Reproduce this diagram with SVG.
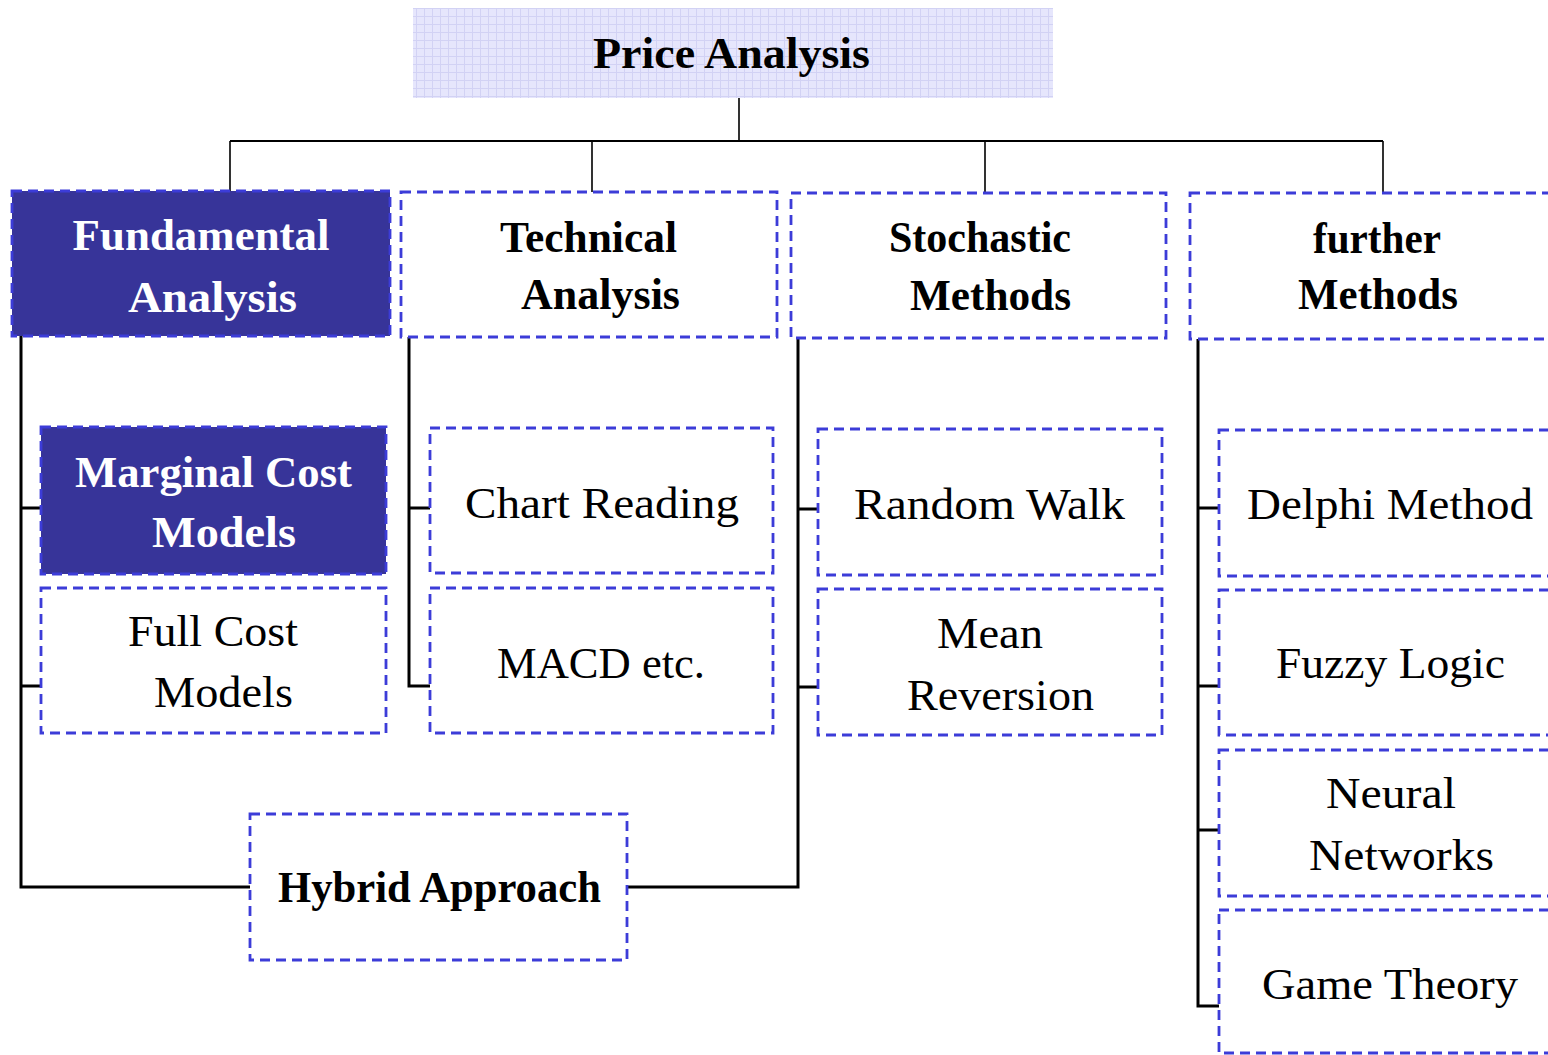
<svg xmlns="http://www.w3.org/2000/svg" width="1548" height="1055" viewBox="0 0 1548 1055">
<defs>
<pattern id="grid" width="8" height="8" patternUnits="userSpaceOnUse">
<rect width="8" height="8" fill="#e6e6fc"/>
<path d="M0 0.5H8M0.5 0V8" stroke="#d2d2f4" stroke-width="1" fill="none"/>
</pattern>
<style>
.box{fill:#ffffff;stroke:#3c3cd8;stroke-width:2.8;stroke-dasharray:10 6}
.dark{fill:#373499;stroke:#3c3cd8;stroke-width:2.8;stroke-dasharray:10 6}
text{font-family:"Liberation Serif","DejaVu Serif",serif;font-size:44px;text-anchor:middle;fill:#000}
.b{font-weight:bold}
.w{fill:#ffffff}
.conn{fill:none;stroke:#000;stroke-width:3}
.thin{fill:none;stroke:#000;stroke-width:1.6}
</style>
</defs>
<rect width="1548" height="1055" fill="#ffffff"/>
<g id="connectors">
<path class="thin" d="M739 98V141M230 191V141M592 192V141M985 193V141M1383 193V141"/>
<path class="thin" style="stroke-width:2.2" d="M230 141H1383"/>
<path class="conn" d="M21 336V887H250M21 508H41M21 686H41"/>
<path class="conn" d="M409 336V686H430M409 508H430"/>
<path class="conn" d="M798 338V887H627M798 509H818M798 687H818"/>
<path class="conn" d="M1198 339V1006H1219M1198 508H1219M1198 686H1219M1198 830H1219"/>
</g>
<g id="price-analysis">
<rect x="413" y="8" width="640" height="90" fill="url(#grid)"/>
<text class="b" x="731.5" y="68" textLength="277" lengthAdjust="spacingAndGlyphs">Price Analysis</text>
</g>
<g id="fundamental-analysis">
<rect class="dark" x="12" y="191" width="378" height="145"/>
<text class="b w" x="201" y="250" textLength="257" lengthAdjust="spacingAndGlyphs">Fundamental</text>
<text class="b w" x="212.5" y="312" textLength="169" lengthAdjust="spacingAndGlyphs">Analysis</text>
</g>
<g id="technical-analysis">
<rect class="box" x="401" y="192" width="376" height="145"/>
<text class="b" x="588.5" y="252" textLength="177" lengthAdjust="spacingAndGlyphs">Technical</text>
<text class="b" x="600.5" y="309" textLength="159" lengthAdjust="spacingAndGlyphs">Analysis</text>
</g>
<g id="stochastic-methods">
<rect class="box" x="791" y="193" width="375" height="145"/>
<text class="b" x="980" y="252" textLength="182" lengthAdjust="spacingAndGlyphs">Stochastic</text>
<text class="b" x="990.5" y="310" textLength="161" lengthAdjust="spacingAndGlyphs">Methods</text>
</g>
<g id="further-methods">
<rect class="box" x="1190" y="193" width="400" height="146"/>
<text class="b" x="1377" y="253" textLength="128" lengthAdjust="spacingAndGlyphs">further</text>
<text class="b" x="1378" y="309" textLength="160" lengthAdjust="spacingAndGlyphs">Methods</text>
</g>
<g id="marginal-cost-models">
<rect class="dark" x="41" y="427" width="345" height="147"/>
<text class="b w" x="213.5" y="487" textLength="277" lengthAdjust="spacingAndGlyphs">Marginal Cost</text>
<text class="b w" x="224" y="547" textLength="144" lengthAdjust="spacingAndGlyphs">Models</text>
</g>
<g id="full-cost-models">
<rect class="box" x="41" y="588" width="345" height="145"/>
<text x="213" y="646" textLength="170" lengthAdjust="spacingAndGlyphs">Full Cost</text>
<text x="223.5" y="707" textLength="139" lengthAdjust="spacingAndGlyphs">Models</text>
</g>
<g id="chart-reading">
<rect class="box" x="430" y="428" width="343" height="145"/>
<text x="602" y="518" textLength="274" lengthAdjust="spacingAndGlyphs">Chart Reading</text>
</g>
<g id="macd">
<rect class="box" x="430" y="588" width="343" height="145"/>
<text x="601" y="678" textLength="208" lengthAdjust="spacingAndGlyphs">MACD etc.</text>
</g>
<g id="random-walk">
<rect class="box" x="818" y="429" width="344" height="146"/>
<text x="989.5" y="519" textLength="271" lengthAdjust="spacingAndGlyphs">Random Walk</text>
</g>
<g id="mean-reversion">
<rect class="box" x="818" y="589" width="344" height="146"/>
<text x="990" y="648" textLength="106" lengthAdjust="spacingAndGlyphs">Mean</text>
<text x="1000.5" y="710" textLength="187" lengthAdjust="spacingAndGlyphs">Reversion</text>
</g>
<g id="delphi-method">
<rect class="box" x="1219" y="430" width="400" height="146"/>
<text x="1390" y="519" textLength="286" lengthAdjust="spacingAndGlyphs">Delphi Method</text>
</g>
<g id="fuzzy-logic">
<rect class="box" x="1219" y="590" width="400" height="145"/>
<text x="1390.5" y="678" textLength="229" lengthAdjust="spacingAndGlyphs">Fuzzy Logic</text>
</g>
<g id="neural-networks">
<rect class="box" x="1219" y="750" width="400" height="146"/>
<text x="1391" y="808" textLength="130" lengthAdjust="spacingAndGlyphs">Neural</text>
<text x="1401.5" y="870" textLength="185" lengthAdjust="spacingAndGlyphs">Networks</text>
</g>
<g id="game-theory">
<rect class="box" x="1219" y="910" width="400" height="143"/>
<text x="1390" y="999" textLength="256" lengthAdjust="spacingAndGlyphs">Game Theory</text>
</g>
<g id="hybrid-approach">
<rect class="box" x="250" y="814" width="377" height="146"/>
<text class="b" x="439.5" y="902" textLength="323" lengthAdjust="spacingAndGlyphs">Hybrid Approach</text>
</g>
</svg>
